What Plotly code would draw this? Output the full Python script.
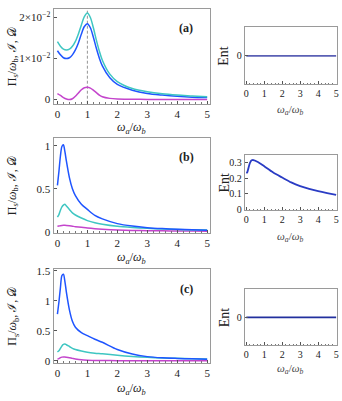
import plotly.graph_objects as go

# --- data ---
x_a = [0, 0.1, 0.2, 0.3, 0.4, 0.5, 0.6, 0.7, 0.8, 0.9, 1.0, 1.1, 1.2, 1.3,
       1.4, 1.5, 1.75, 2.0, 2.5, 3.0, 3.5, 4.0, 4.5, 5.0]
cyan_a = [0.0141, 0.0130, 0.0123, 0.0121, 0.0123, 0.0130, 0.0142, 0.0160,
          0.0182, 0.0202, 0.0211, 0.0200, 0.0175, 0.0145, 0.0118, 0.0096,
          0.0062, 0.0044, 0.0027, 0.0019, 0.0014, 0.0011, 0.0009, 0.0007]
blue_a = [0.0119, 0.0109, 0.0102, 0.0100, 0.0102, 0.0109, 0.0121, 0.0138,
          0.0160, 0.0178, 0.0185, 0.0175, 0.0152, 0.0125, 0.0101, 0.0082,
          0.0053, 0.0037, 0.0023, 0.0015, 0.0011, 0.0008, 0.0006, 0.0005]
mag_a = [0.00145, 0.0010, 0.0005, 0.00015, 0.0000, 0.0002, 0.0008, 0.0016,
         0.0024, 0.0029, 0.0030, 0.0028, 0.0023, 0.0017, 0.0011, 0.0007,
         0.0003, 0.00015, 0.0001, 0.00005, 0.00003, 0.00002, 0.00001, 0.00001]

x_bc = [0, 0.05, 0.1, 0.15, 0.2, 0.25, 0.3, 0.4, 0.5, 0.6, 0.8, 1.0, 1.25,
        1.5, 2.0, 2.5, 3.0, 3.5, 4.0, 4.5, 5.0]
blue_b = [0.54, 0.70, 0.88, 0.99, 1.01, 0.93, 0.82, 0.63, 0.50, 0.42, 0.32,
          0.26, 0.19, 0.15, 0.095, 0.066, 0.048, 0.037, 0.029, 0.023, 0.019]
cyan_b = [0.17, 0.20, 0.25, 0.29, 0.31, 0.32, 0.30, 0.26, 0.22, 0.195, 0.16,
          0.13, 0.105, 0.088, 0.064, 0.05, 0.04, 0.033, 0.027, 0.023, 0.02]
mag_b = [0.064, 0.067, 0.071, 0.074, 0.075, 0.075, 0.074, 0.070, 0.065,
         0.060, 0.052, 0.044, 0.036, 0.030, 0.021, 0.016, 0.013, 0.011,
         0.009, 0.008, 0.007]

blue_c = [0.78, 0.98, 1.22, 1.42, 1.44, 1.32, 1.14, 0.85, 0.66, 0.56, 0.47,
          0.42, 0.36, 0.31, 0.19, 0.115, 0.072, 0.052, 0.042, 0.035, 0.03]
cyan_c = [0.15, 0.17, 0.21, 0.25, 0.275, 0.28, 0.27, 0.24, 0.21, 0.19, 0.165,
          0.145, 0.13, 0.12, 0.095, 0.075, 0.06, 0.05, 0.043, 0.037, 0.032]
mag_c = [0.03, 0.04, 0.055, 0.064, 0.067, 0.066, 0.062, 0.053, 0.043, 0.034,
         0.02, 0.013, 0.009, 0.007, 0.005, 0.004, 0.003, 0.003, 0.002, 0.002,
         0.002]

x_ent = [0, 0.05, 0.1, 0.2, 0.3, 0.4, 0.5, 0.75, 1.0, 1.5, 2.0, 2.5, 3.0,
         3.5, 4.0, 4.5, 5.0]
ent_b = [0.232, 0.236, 0.255, 0.295, 0.313, 0.315, 0.31, 0.295, 0.275,
         0.235, 0.203, 0.172, 0.148, 0.13, 0.116, 0.104, 0.093]
x_flat = [0, 5]
ent_zero = [0, 0]

CYAN = "#3fc6c2"
BLUE = "#1f55ff"
MAG = "#c445cc"
FONT = "Liberation Serif"
W, H = 342, 401

def px(x):
    return x / W

def py(y):
    return 1 - y / H

fig = go.Figure()

def line(x, y, color, xa, ya, width=1.5):
    fig.add_trace(go.Scatter(x=x, y=y, mode="lines", line=dict(color=color, width=width, shape="spline", smoothing=0.8),
                             xaxis=xa, yaxis=ya, showlegend=False, hoverinfo="skip"))

# left panels
line(x_a, mag_a, MAG, "x", "y")
line(x_a, blue_a, BLUE, "x", "y")
line(x_a, cyan_a, CYAN, "x", "y")
line(x_bc, mag_b, MAG, "x3", "y3")
line(x_bc, cyan_b, CYAN, "x3", "y3")
line(x_bc, blue_b, BLUE, "x3", "y3")
line(x_bc, mag_c, MAG, "x5", "y5")
line(x_bc, cyan_c, CYAN, "x5", "y5")
line(x_bc, blue_c, BLUE, "x5", "y5")
# right panels
line(x_flat, ent_zero, "#5b60b5", "x2", "y2", 1.8)
line(x_ent, ent_b, "#2a3cc4", "x4", "y4", 1.8)
line(x_flat, ent_zero, "#22309e", "x6", "y6", 1.8)

frame = dict(showline=True, mirror=True, linecolor="#9a9a9a", linewidth=1.2,
             showgrid=False, zeroline=False, ticks="inside", ticklen=3,
             tickcolor="#555", tickfont=dict(family=FONT, size=11, color="#222"))
xtick = dict(tickvals=[0, 1, 2, 3, 4, 5],
             minor=dict(ticks="inside", ticklen=1.5, tickcolor="#777", dtick=0.2))
small = dict(family=FONT, size=10, color="#222")

left_x = [px(53), px(211)]
right_x = [px(246), px(339)]
rows = [(5, 102, 24, 82), (137, 234, 154, 211), (271, 367, 292, 349)]
yranges = [[-0.001, 0.0221], [-0.011, 1.09], [-0.03, 1.53]]
yticks = [
    ([0, 0.01, 0.02], ["0", "1×10<sup>−2</sup>", "2×10<sup>−2</sup>"]),
    ([0, 0.5, 1], ["0", "0.5", "1"]),
    ([0, 0.5, 1, 1.5], ["0", "0.5", "1", "1.5"]),
]
layout = {}
for i, (lt, lb, rt, rb) in enumerate(rows):
    n_l = 2 * i + 1
    n_r = 2 * i + 2
    sl = "" if n_l == 1 else str(n_l)
    sr = str(n_r)
    layout["xaxis" + sl] = dict(frame, **xtick, domain=left_x, range=[-0.13, 5.1], anchor="y" + sl)
    layout["yaxis" + sl] = dict(frame, domain=[py(lb), py(lt)], range=yranges[i], anchor="x" + sl,
                                tickvals=yticks[i][0], ticktext=yticks[i][1])
    layout["xaxis" + sr] = dict(frame, **xtick, domain=right_x, range=[-0.08, 5.05], anchor="y" + sr)
    layout["xaxis" + sr]["tickfont"] = small
    if i == 1:
        ry = dict(range=[-0.006, 0.35], tickvals=[0, 0.1, 0.2, 0.3], ticktext=["0", "0.1", "0.2", "0.3"])
    else:
        ry = dict(range=[-1, 1], tickvals=[0], ticktext=["0"])
    layout["yaxis" + sr] = dict(frame, domain=[py(rb), py(rt)], anchor="x" + sr, **ry)
    layout["yaxis" + sr]["tickfont"] = small

fig.update_layout(**layout)

ann = []
ytitle = "Π<sub>s</sub>/<i>ω</i><sub>b</sub>, ℐ, 𝒟"
xtitle = "<i>ω<sub>a</sub></i>/<i>ω<sub>b</sub></i>"
xt_left = [127, 260, 394]
xt_right = [108, 238, 373]
labels = ["(a)", "(b)", "(c)"]
label_y = [25, 157, 292]
for i, (lt, lb, rt, rb) in enumerate(rows):
    ann.append(dict(x=px(12), y=py((lt + lb) / 2), text=ytitle, textangle=-90,
                    font=dict(family=FONT, size=12, color="#222")))
    ann.append(dict(x=px(132), y=py(xt_left[i]), text=xtitle, font=dict(family=FONT, size=12, color="#222")))
    ann.append(dict(x=px(292), y=py(xt_right[i]), text=xtitle, font=dict(family=FONT, size=11, color="#444")))
    ann.append(dict(x=px(225), y=py((rt + rb) / 2), text="Ent", textangle=-90,
                    font=dict(family=FONT, size=14, color="#222")))
    ann.append(dict(x=px(187), y=py(label_y[i]), text="<b>" + labels[i] + "</b>",
                    font=dict(family=FONT, size=12, color="#222")))
for a in ann:
    a.update(xref="paper", yref="paper", showarrow=False, xanchor="center", yanchor="middle")

fig.update_layout(
    width=W, height=H, margin=dict(l=0, r=0, t=0, b=0),
    paper_bgcolor="white", plot_bgcolor="white",
    annotations=ann,
    shapes=[dict(type="line", xref="x", yref="y", x0=1, x1=1, y0=-0.001, y1=0.0221,
                 line=dict(color="#888", width=0.9, dash="3px,2px"), layer="below")],
)

# remove the page's default body margin so the figure sits at the window corner
fig.write_html("out.html", config={"displayModeBar": False},
               post_script="document.body.style.margin='0';document.body.style.overflow='hidden';")
